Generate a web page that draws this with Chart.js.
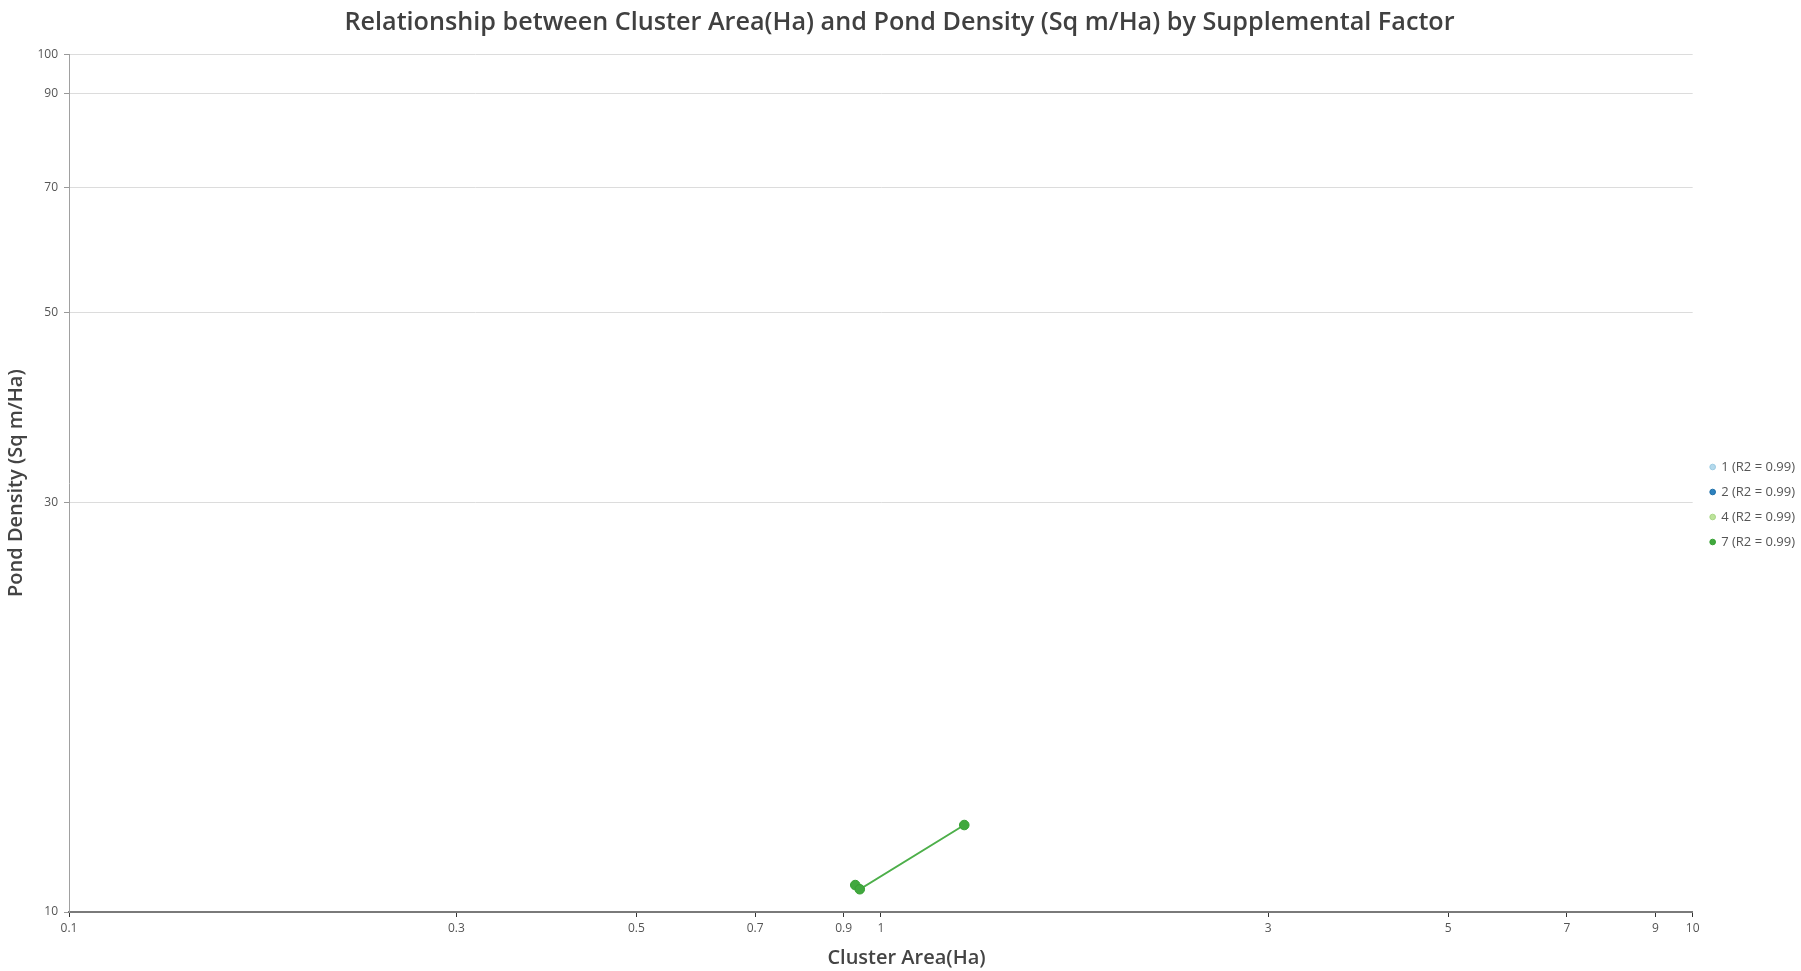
<!DOCTYPE html>
<html>
<head>
<meta charset="utf-8">
<script src="https://cdn.jsdelivr.net/npm/chart.js@4"></script>
<style>
html,body{margin:0;padding:0;background:#fff;}
#wrap{width:1801px;height:971px;position:relative;}
</style>
</head>
<body>
<div id="wrap"><canvas id="c"></canvas></div>
<script>
const seriesNames = ['1 (R2 = 0.99)', '2 (R2 = 0.99)', '4 (R2 = 0.99)', '7 (R2 = 0.99)'];
const seriesFill = ['#b4d9ec', '#2d82bf', '#bde39a', '#41a83e'];
const seriesLine = ['#9ccbe2', '#1f6fa8', '#a8d686', '#4daf4a'];
const series1X = [], series1Y = [];
const series2X = [], series2Y = [];
const series4X = [], series4Y = [];
const series7X = [0.930, 0.942, 1.267];
const series7Y = [10.75, 10.63, 12.63];
const xTicks = [0.1, 0.3, 0.5, 0.7, 0.9, 1, 3, 5, 7, 9, 10];
const yTicks = [10, 30, 50, 70, 90, 100];
const xTitle = 'Cluster Area(Ha)';

const FONT = "'Open Sans', 'Noto Sans', sans-serif";
const toPts = (xs, ys) => xs.map((x, i) => ({x: x, y: ys[i]}));
const allX = [series1X, series2X, series4X, series7X];
const allY = [series1Y, series2Y, series4Y, series7Y];

const datasets = seriesNames.map((n, i) => ({
  label: n,
  data: toPts(allX[i], allY[i]),
  backgroundColor: seriesFill[i],
  borderColor: seriesLine[i],
  pointBackgroundColor: seriesFill[i],
  pointBorderColor: i === 3 ? '#36a033' : seriesLine[i],
  pointBorderWidth: 1,
  pointRadius: 4.8,
  borderWidth: 2,
  showLine: true,
  fill: false
}));

const xTitlePlugin = {
  id: 'xTitlePlugin',
  afterLayout(chart) {
    if (chart.legend) {
      chart.legend.left += 6;
      chart.legend.right += 6;
    }
  },
  afterDraw(chart) {
    const ctx = chart.ctx;
    ctx.save();
    ctx.font = "600 20px " + FONT;
    ctx.fillStyle = '#444';
    ctx.textAlign = 'center';
    ctx.textBaseline = 'middle';
    ctx.fillText(xTitle, chart.width / 2 + 6, 958);
    ctx.restore();
  }
};

new Chart(document.getElementById('c'), {
  type: 'scatter',
  data: {datasets: datasets},
  plugins: [xTitlePlugin],
  options: {
    responsive: true,
    maintainAspectRatio: false,
    animation: false,
    layout: {padding: {left: 0, right: 2, top: 0, bottom: 0}},
    plugins: {
      title: {
        display: true,
        text: 'Relationship between Cluster Area(Ha) and Pond Density (Sq m/Ha) by Supplemental Factor',
        color: '#404040',
        font: {family: FONT, size: 25.2, weight: '600'},
        padding: {top: 8, bottom: 16}
      },
      legend: {
        position: 'right',
        title: {display: true, text: ' ', font: {size: 10}, padding: {top: 13, bottom: 13}},
        labels: {
          usePointStyle: true,
          pointStyle: 'circle',
          boxWidth: 4,
          boxHeight: 4,
          padding: 12,
          color: '#555',
          font: {family: FONT, size: 13}
        }
      },
      tooltip: {enabled: false}
    },
    scales: {
      x: {
        type: 'logarithmic',
        min: 0.1,
        max: 10,
        afterBuildTicks: s => { s.ticks = xTicks.map(v => ({value: v})); },
        afterFit: s => { s.height = 59; },
        ticks: {
          autoSkip: false,
          maxRotation: 0,
          color: '#555',
          font: {family: FONT, size: 12},
          padding: 4,
          callback: v => String(v)
        },
        grid: {drawOnChartArea: false, drawTicks: true, tickLength: 5, tickColor: '#333'},
        border: {display: true, color: '#7a7a7a', width: 2},
        title: {display: false}
      },
      y: {
        type: 'logarithmic',
        min: 10,
        max: 100,
        afterBuildTicks: s => { s.ticks = yTicks.map(v => ({value: v})); },
        afterFit: s => { s.width = 69; },
        ticks: {
          autoSkip: false,
          color: '#555',
          font: {family: FONT, size: 12},
          padding: 6,
          callback: v => String(v)
        },
        grid: {color: '#dcdcdc', lineWidth: 1, drawTicks: true, tickLength: 5, tickColor: '#999'},
        border: {display: true, color: '#a0a0a0', width: 1},
        title: {
          display: true,
          text: 'Pond Density (Sq m/Ha)',
          color: '#444',
          font: {family: FONT, size: 20, weight: '600'},
          padding: {top: 4, bottom: 0}
        }
      }
    }
  }
});
</script>
</body>
</html>
